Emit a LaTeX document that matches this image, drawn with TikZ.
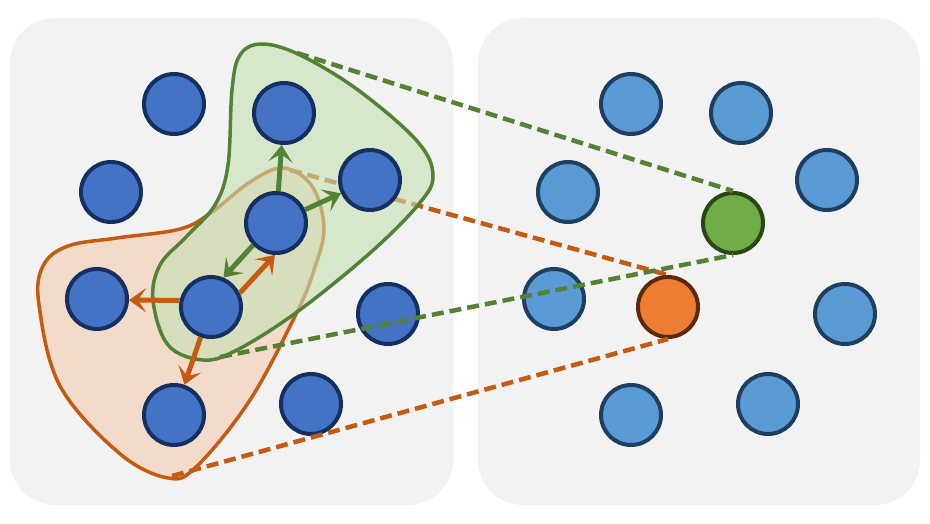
\documentclass[tikz,border=0pt]{standalone}
\usepackage{tikz}
\usetikzlibrary{arrows.meta}
\definecolor{panelGrey}{HTML}{F2F2F2}
\definecolor{darkBlue}{HTML}{4472C4}
\definecolor{darkBlueLine}{HTML}{15305E}
\definecolor{lightBlue}{HTML}{5B9BD5}
\definecolor{lightBlueLine}{HTML}{1F3F61}
\definecolor{nodeGreen}{HTML}{70AD47}
\definecolor{nodeGreenLine}{HTML}{2B4716}
\definecolor{nodeOrange}{HTML}{ED7D31}
\definecolor{nodeOrangeLine}{HTML}{5C2A0B}
\definecolor{lineGreen}{HTML}{548235}
\definecolor{lineOrange}{HTML}{C55A11}
\definecolor{fillGreen}{HTML}{C5E0B4}
\definecolor{fillOrange}{HTML}{F4B183}
\pgfdeclarelayer{panel_bg}
\pgfdeclarelayer{blob_bg}
\pgfsetlayers{panel_bg,blob_bg,main}

\begin{document}
\begin{tikzpicture}[x=1pt, y=-1pt,
    srcnode/.style={draw=darkBlueLine, fill=darkBlue, circle, line width=4pt, minimum size=\nodeSize pt, inner sep=0pt},
    dstnode/.style={srcnode, draw=lightBlueLine, fill=lightBlue},
    greennode/.style={srcnode, draw=nodeGreenLine, fill=nodeGreen},
    orangenode/.style={srcnode, draw=nodeOrangeLine, fill=nodeOrange},
    garrow/.style={draw=lineGreen, line width=5pt, -{Stealth[length=17pt, width=24pt, inset=8pt]}},
    oarrow/.style={garrow, draw=lineOrange},
    gdash/.style={draw=lineGreen, line width=4.5pt, dash pattern=on 12pt off 6pt},
    odash/.style={gdash, draw=lineOrange}]
    \pgfmathsetmacro{\nodeSize}{60}
    \pgfmathsetmacro{\panelShift}{457}

    \useasboundingbox (0,0) rectangle (930,524);

    % nodes of both panels
    \foreach \name/\x/\y/\kind in {a/174/104/dstnode, b/284/113/dstnode, c/111/192/dstnode, d/370/180/dstnode, e/276/223/greennode,
        f/97/299/dstnode, g/211/307/orangenode, h/388/314/dstnode, i/174/415/dstnode, j/311/404/dstnode} {
        \node (src_\name) [srcnode] at (\x,\y) {};
        \node (dst_\name) [\kind] at ({\x+\panelShift},\y) {};
    }

    \coordinate (green_top) at (297,53);
    \coordinate (green_bot) at (220,357);
    \coordinate (orange_top) at (290,170);
    \coordinate (orange_bot) at (172,476);

    \begin{pgfonlayer}{panel_bg}
        \fill [white] (0,0) rectangle (930,524);
        \fill [panelGrey, rounded corners=45pt] (10,18) rectangle (453,505);
        \fill [panelGrey, rounded corners=45pt] (478,18) rectangle (920,505);
    \end{pgfonlayer}

    \begin{pgfonlayer}{blob_bg}
        \draw [draw=lineOrange, line width=3.5pt, fill=fillOrange, fill opacity=0.35] plot [smooth cycle, tension=0.6] coordinates {
            (283,168) (250,182) (212,212) (180,229) (117,238) (68,246) (43,266) (39,305) (60,386) (119,453) (168,478)
            (197,466) (250,400) (297,312) (314,270) (324,228) (312,186)};
        \draw [odash] (orange_top) -- (dst_g.north);
        \draw [draw=lineGreen, line width=3.5pt, fill=fillGreen, fill opacity=0.6] plot [smooth cycle, tension=0.6] coordinates {
            (262,44) (300,55) (358,90) (417,141) (433,176) (418,205) (370,253) (297,312) (237,350) (203,360) (168,345)
            (153,300) (160,265) (186,237) (215,205) (228,165) (232,90) (240,55)};
    \end{pgfonlayer}

    \draw [oarrow] (src_g.168) -- (src_f.358);
    \draw [oarrow] (src_g) -- (src_i);
    \draw [oarrow] (src_g.26) -- (src_e.268);
    \draw [garrow] (src_e.224) -- (src_g.67);
    \draw [garrow] (src_e) -- (src_b);
    \draw [garrow] (src_e) -- (src_d);

    \draw [gdash] (green_top) -- (dst_e.north);
    \draw [gdash] (green_bot) -- (dst_e.south);
    \draw [odash] (orange_bot) -- (dst_g.south);
\end{tikzpicture}
\end{document}
